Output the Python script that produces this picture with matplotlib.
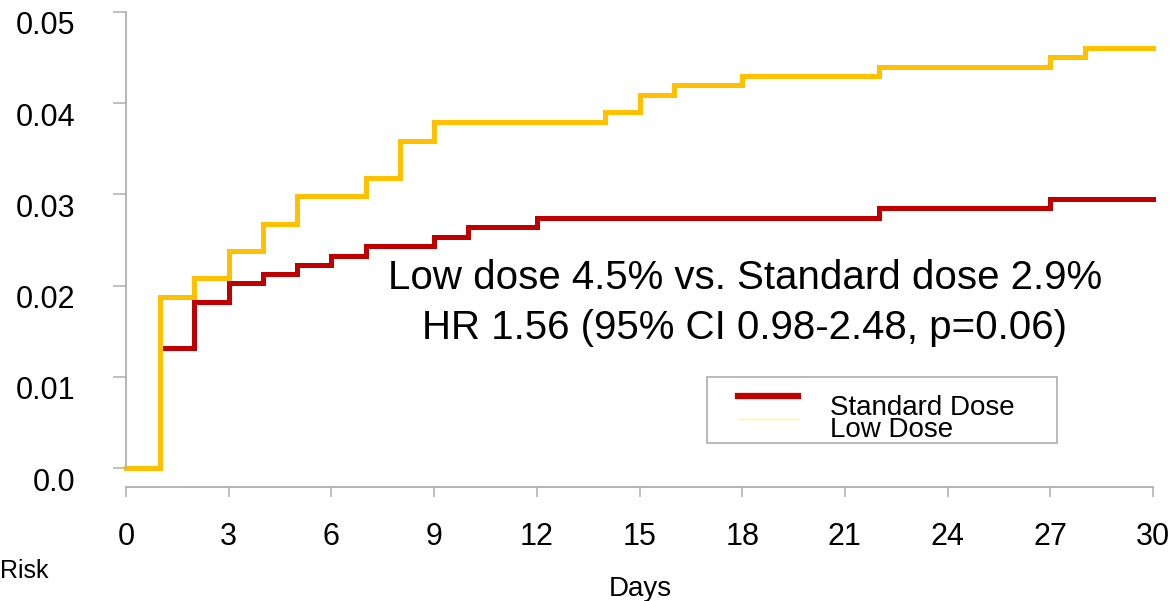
import matplotlib
matplotlib.use('Agg')
import matplotlib.pyplot as plt
import matplotlib.patches as mpatches
from matplotlib.lines import Line2D
from matplotlib.transforms import ScaledTranslation

plt.rcParams['font.family'] = ['Liberation Sans', 'DejaVu Sans']

# 累积风险 (step, post)
low_days = [0, 1, 2, 3, 4, 5, 7, 8, 9, 14, 15, 16, 18, 22, 27, 28, 30]
low_risk = [0.0, 0.0188, 0.0208, 0.0238, 0.0268, 0.0298, 0.0318, 0.0359, 0.0379,
            0.0390, 0.0409, 0.0420, 0.0430, 0.0440, 0.0451, 0.0461, 0.0461]
std_days = [0, 1, 2, 3, 4, 5, 6, 7, 9, 10, 12, 22, 27, 30]
std_risk = [0.0, 0.0132, 0.0182, 0.0203, 0.0213, 0.0223, 0.0233, 0.0243, 0.0253,
            0.0264, 0.0274, 0.0285, 0.0295, 0.0295]

x_ticks = [0, 3, 6, 9, 12, 15, 18, 21, 24, 27, 30]
y_ticks = [0.0, 0.01, 0.02, 0.03, 0.04, 0.05]
y_ticklabels = ['0.0', '0.01', '0.02', '0.03', '0.04', '0.05']

RED = '#C00000'
YELLOW = '#FFC000'
GRAY = '#B4B4B4'

W, H = 1172, 601
fig = plt.figure(figsize=(W / 100, H / 100), dpi=100)
ax = fig.add_axes([126 / W, 1 - 487 / H, (1153 - 126) / W, (487 - 12) / H])

ax.step(std_days, std_risk, where='post', color=RED, lw=3.6, clip_on=False,
        solid_joinstyle='miter')
ax.step(low_days, low_risk, where='post', color=YELLOW, lw=3.6, clip_on=False,
        solid_joinstyle='miter')

ax.set_xlim(0, 30)
ax.set_ylim(-0.00208, 0.05)

for s in ['top', 'right']:
    ax.spines[s].set_visible(False)
ax.spines['left'].set_bounds(0, 0.05)
ax.spines['bottom'].set_bounds(0, 30)
for s in ['left', 'bottom']:
    ax.spines[s].set_color(GRAY)
    ax.spines[s].set_linewidth(1.4)

ax.set_xticks(x_ticks)
ax.set_xticklabels([str(t) for t in x_ticks], fontsize=22)
ax.set_yticks(y_ticks)
ax.set_yticklabels(y_ticklabels, fontsize=22)
ax.tick_params(axis='y', length=9.5, width=1.2, color=GRAY, pad=27)
ax.tick_params(axis='x', length=7.5, width=1.2, color=GRAY, pad=18)
off = ScaledTranslation(0, -11 / 100, fig.dpi_scale_trans)
for lab in ax.get_yticklabels():
    lab.set_transform(lab.get_transform() + off)

# 注释
fig.text(745 / W, 1 - 278 / H, 'Low dose 4.5% vs. Standard dose 2.9%',
         fontsize=29, ha='center', va='center')
fig.text(744 / W, 1 - 328 / H, 'HR 1.56 (95% CI 0.98-2.48, p=0.06)',
         fontsize=29, ha='center', va='center')

# 轴标题
fig.text(640 / W, 1 - 596 / H, 'Days', fontsize=20, ha='center', va='baseline')
fig.text(0, 1 - 578 / H, 'Risk', fontsize=18, ha='left', va='baseline')

# 图例 (手工)
fig.add_artist(mpatches.Rectangle((707 / W, 1 - 443 / H), 350 / W, 66 / H,
                                  transform=fig.transFigure, fill=False,
                                  edgecolor=GRAY, lw=1.3))
fig.add_artist(Line2D([738 / W, 798 / W], [1 - 396 / H] * 2,
                      transform=fig.transFigure, color=RED, lw=4.5))
fig.add_artist(Line2D([738 / W, 798 / W], [1 - 419 / H] * 2,
                      transform=fig.transFigure, color='#FFFF66', lw=1.0))
fig.text(830 / W, 1 - 415 / H, 'Standard Dose', fontsize=20, va='baseline')
fig.text(830 / W, 1 - 437 / H, 'Low Dose', fontsize=20, va='baseline')

fig.savefig('out.png', dpi=100)
